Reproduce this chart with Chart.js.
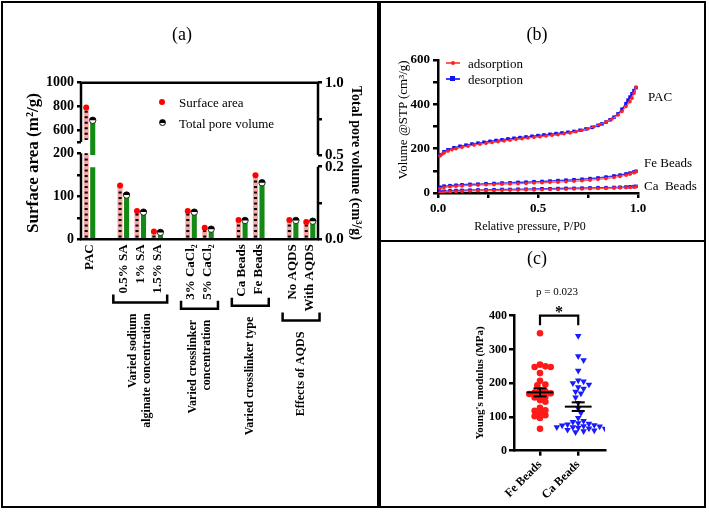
<!DOCTYPE html>
<html>
<head>
<meta charset="utf-8">
<title>Surface area, isotherms and Young's modulus</title>
<script src="https://cdn.jsdelivr.net/npm/chart.js@4.4.1/dist/chart.umd.min.js"></script>
<style>
  body { margin: 0; background: #fff; }
  #fig { position: relative; width: 709px; height: 512px; overflow: hidden; font-family: "Liberation Serif", "Times New Roman", serif; color: #000; }
  #fig canvas { position: absolute; }
  .box { position: absolute; border: 2px solid #000; box-sizing: border-box; }
  .t { position: absolute; white-space: pre; transform: translate(-50%, -50%); line-height: 1; }
  .l { position: absolute; white-space: pre; transform: translateY(-50%); line-height: 1; }
  .mk { position: absolute; box-sizing: border-box; }
</style>
</head>
<body>
<div id="fig">
  <canvas id="aTop" width="374" height="110" style="left:2px;top:60px"></canvas>
  <canvas id="aBottom" width="374" height="368" style="left:2px;top:140px"></canvas>
  <canvas id="bChart" width="322" height="235" style="left:382px;top:4px"></canvas>
  <canvas id="cChart" width="322" height="262" style="left:382px;top:244px"></canvas>

  <div class="box" style="left:1px;top:1px;width:378px;height:507px"></div>
  <div class="box" style="left:379px;top:1px;width:327px;height:241px"></div>
  <div class="box" style="left:379px;top:240px;width:327px;height:268px"></div>

  <!-- (a) -->
  <div class="t" style="left:182px;top:34px;font-size:18px">(a)</div>
  <div class="t" style="left:32px;top:163px;font-size:17px;font-weight:bold;transform:translate(-50%,-50%) rotate(-90deg)">Surface area (m²/g)</div>
  <div class="t" style="left:356px;top:163px;font-size:14px;font-weight:bold;transform:translate(-50%,-50%) rotate(90deg)">Total pore volume (cm³/g)</div>
  <div class="mk" style="left:159px;top:99px;width:6px;height:6px;border-radius:50%;background:#ff0000"></div>
  <div class="l" style="left:179px;top:102px;font-size:13px">Surface area</div>
  <div class="mk" style="left:159px;top:119px;width:7px;height:7px;border-radius:50%;border:1px solid #000;background:linear-gradient(#000 50%, #fff 50%)"></div>
  <div class="l" style="left:179px;top:123px;font-size:13px">Total pore volume</div>

  <!-- (b) -->
  <div class="t" style="left:537px;top:34px;font-size:18px">(b)</div>
  <div class="t" style="left:402px;top:120px;font-size:13px;transform:translate(-50%,-50%) rotate(-90deg)">Volume @STP (cm³/g)</div>
  <div class="t" style="left:530px;top:226px;font-size:12px">Relative pressure, P/P0</div>
  <div class="mk" style="left:446px;top:62px;width:14px;height:1.5px;background:#ff5a5a"></div>
  <div class="mk" style="left:451px;top:61px;width:4px;height:4px;border-radius:50%;background:#ff2020"></div>
  <div class="l" style="left:468px;top:63px;font-size:13px">adsorption</div>
  <div class="mk" style="left:446px;top:78px;width:14px;height:1.5px;background:#3c3cff"></div>
  <div class="mk" style="left:450px;top:76px;width:5px;height:5px;background:#1010ff"></div>
  <div class="l" style="left:468px;top:79px;font-size:13px">desorption</div>
  <div class="l" style="left:648px;top:96px;font-size:13px">PAC</div>
  <div class="l" style="left:644px;top:162px;font-size:13px">Fe Beads</div>
  <div class="l" style="left:644px;top:185px;font-size:13px">Ca  Beads</div>

  <!-- (c) -->
  <div class="t" style="left:537px;top:258px;font-size:18px">(c)</div>
  <div class="t" style="left:479px;top:383px;font-size:11px;font-weight:bold;transform:translate(-50%,-50%) rotate(-90deg)">Young's modulus (MPa)</div>
  <div class="t" style="left:557px;top:291px;font-size:11px">p = 0.023</div>
  <div class="t" style="left:559px;top:312px;font-size:16px;font-weight:bold">*</div>
</div>

<script>
Chart.defaults.font.family = '"Liberation Serif", "Times New Roman", serif';
Chart.defaults.color = '#000';
Chart.defaults.animation = false;

// (a) one slot per sample, '' is the gap between groups
const samples = ['PAC', '', '0.5% SA', '1% SA', '1.5% SA', '', '3% CaCl₂', '5% CaCl₂', '', 'Ca Beads', 'Fe Beads', '', 'No AQDS', 'With AQDS'];
const surfaceArea = [790, null, 125, 66, 18, null, 66, 27, null, 45, 149, null, 45, 40];
const poreVolume = [0.74, null, 0.122, 0.075, 0.019, null, 0.075, 0.028, null, 0.052, 0.156, null, 0.052, 0.05];
const groups = [
  { from: 2, to: 4, lines: ['Varied sodium', 'alginate concentration'] },
  { from: 6, to: 7, lines: ['Varied crosslinker', 'concentration'] },
  { from: 9, to: 10, lines: ['Varied crosslinker type'] },
  { from: 12, to: 13, lines: ['Effects of AQDS'] }
];

// (b) N2 isotherms
const pacAdsP = [0.01, 0.02, 0.03, 0.05, 0.07, 0.09, 0.12, 0.15, 0.18, 0.21, 0.24, 0.27, 0.30, 0.33, 0.36, 0.39, 0.42, 0.45, 0.48, 0.51, 0.54, 0.57, 0.60, 0.63, 0.66, 0.69, 0.72, 0.75, 0.78, 0.81, 0.84, 0.87, 0.90, 0.92, 0.94, 0.96, 0.97, 0.98, 0.99];
const pacAds = [167, 175, 181, 189, 195, 200, 206, 211, 216, 220, 224, 228, 231, 235, 238, 242, 245, 248, 251, 254, 257, 260, 263, 267, 271, 276, 283, 290, 299, 309, 320, 334, 352, 368, 390, 412, 428, 450, 478];
const pacDesP = [0.01, 0.03, 0.05, 0.08, 0.11, 0.14, 0.17, 0.20, 0.23, 0.26, 0.29, 0.32, 0.35, 0.38, 0.41, 0.44, 0.47, 0.50, 0.53, 0.56, 0.59, 0.62, 0.65, 0.68, 0.71, 0.74, 0.77, 0.80, 0.82, 0.84, 0.86, 0.88, 0.90, 0.92, 0.94, 0.95, 0.96, 0.97, 0.98, 0.99];
const pacDes = [172, 186, 195, 204, 211, 216, 221, 225, 229, 233, 237, 240, 244, 247, 250, 253, 256, 259, 262, 265, 268, 271, 274, 278, 283, 289, 296, 305, 312, 320, 330, 342, 357, 378, 403, 419, 433, 448, 462, 475];
const beadsP = [0.01, 0.03, 0.06, 0.09, 0.12, 0.16, 0.20, 0.24, 0.28, 0.32, 0.36, 0.40, 0.44, 0.48, 0.52, 0.56, 0.60, 0.64, 0.68, 0.72, 0.76, 0.80, 0.84, 0.88, 0.91, 0.94, 0.96, 0.98, 0.99];
const feAds = [20, 25, 28, 30, 32, 34, 35, 37, 38, 40, 41, 42, 43, 45, 46, 48, 49, 51, 53, 55, 58, 61, 65, 70, 75, 80, 85, 91, 96];
const feDes = [26, 31, 33, 35, 37, 39, 40, 42, 43, 45, 46, 48, 49, 51, 52, 54, 56, 58, 60, 62, 65, 68, 72, 77, 81, 86, 90, 95, 98];
const caAds = [1, 4, 6, 7, 8, 9, 10, 11, 11, 12, 13, 13, 14, 14, 15, 16, 16, 17, 18, 18, 19, 20, 21, 22, 23, 24, 25, 26, 28];
const caDes = [5, 8, 10, 11, 12, 13, 14, 14, 15, 16, 16, 17, 17, 18, 19, 19, 20, 21, 21, 22, 23, 24, 24, 25, 26, 27, 28, 29, 30];

// (c) Young's modulus (MPa)
const beadNames = ['Fe Beads', 'Ca Beads'];
const feModulus = [348, 255, 250, 248, 248, 230, 207, 196, 194, 180, 176, 172, 170, 165, 168, 160, 158, 150, 145, 127, 120, 118, 112, 105, 102, 97, 65];
const caModulus = [340, 280, 268, 237, 208, 205, 200, 196, 188, 184, 175, 170, 158, 142, 125, 112, 97, 88, 85, 82, 80, 78, 76, 75, 73, 72, 70, 70, 68, 66, 65, 62, 60, 58, 55];

const pink = '#f7a9a9';
const green = '#138a13';
const bold = size => ({ size: size, weight: 'bold' });
const fixedTicks = vals => scale => { scale.ticks = vals.map(v => ({ value: v })); };
const tickGrid = len => ({ display: true, drawOnChartArea: false, drawTicks: true, tickLength: len, lineWidth: 2.5, color: '#000' });

// axis lines that only run over part of a broken axis
function axisLines(segments, top) {
  return {
    id: 'axisLines',
    afterDraw(chart) {
      const ctx = chart.ctx, a = chart.chartArea;
      ctx.save();
      ctx.strokeStyle = '#000';
      ctx.lineWidth = 2.5;
      segments.forEach(s => {
        const sc = chart.scales[s.axis];
        const x = sc.position === 'left' ? a.left : a.right;
        ctx.beginPath();
        ctx.moveTo(x, sc.getPixelForValue(s.from));
        ctx.lineTo(x, sc.getPixelForValue(s.to));
        ctx.stroke();
      });
      if (top) {
        ctx.beginPath();
        ctx.moveTo(a.left, a.top);
        ctx.lineTo(a.right, a.top);
        ctx.stroke();
      }
      ctx.restore();
    }
  };
}

// black dashes inside the pink bars, and the markers on the bar tops
const barDecor = {
  id: 'barDecor',
  afterDatasetsDraw(chart) {
    const ctx = chart.ctx, a = chart.chartArea;
    chart.data.datasets.forEach((ds, di) => {
      const meta = chart.getDatasetMeta(di);
      const scale = chart.scales[ds.yAxisID];
      const c = ds.clip;
      meta.data.forEach((bar, i) => {
        const v = ds.data[i];
        if (v == null) return;
        const p = bar.getProps(['x', 'y', 'base', 'width'], true);
        if (ds.dashes) {
          ctx.save();
          ctx.beginPath();
          ctx.rect(a.left, a.top - c.top, a.right - a.left, (a.bottom + c.bottom) - (a.top - c.top));
          ctx.clip();
          ctx.fillStyle = '#000';
          for (let y = p.base - 2.5; y > p.y + 1; y -= 5.5) {
            ctx.fillRect(p.x - p.width / 2 + 1, y, p.width - 2, 2);
          }
          ctx.restore();
        }
        if (v < scale.min || v > scale.max) return;
        ctx.save();
        if (ds.marker === 'dot') {
          ctx.fillStyle = '#ff0000';
          ctx.beginPath();
          ctx.arc(p.x, p.y, 3, 0, Math.PI * 2);
          ctx.fill();
        } else {
          ctx.fillStyle = '#fff';
          ctx.strokeStyle = '#000';
          ctx.lineWidth = 0.8;
          ctx.beginPath();
          ctx.arc(p.x, p.y, 3.2, 0, Math.PI * 2);
          ctx.fill();
          ctx.stroke();
          ctx.fillStyle = '#000';
          ctx.beginPath();
          ctx.arc(p.x, p.y, 3.2, Math.PI, 0);
          ctx.fill();
        }
        ctx.restore();
      });
    });
  }
};

// brackets and rotated group names under the sample labels
const groupBrackets = {
  id: 'groupBrackets',
  afterDraw(chart) {
    const ctx = chart.ctx, xs = chart.scales.x, base = chart.chartArea.bottom;
    ctx.save();
    ctx.strokeStyle = '#000';
    ctx.fillStyle = '#000';
    ctx.lineWidth = 2.5;
    groups.forEach(g => {
      ctx.font = 'bold 13px "Liberation Serif"';
      let w = 0;
      for (let i = g.from; i <= g.to; i++) w = Math.max(w, ctx.measureText(samples[i]).width);
      const y = base + 5 + w + 9;
      const c0 = xs.getPixelForValue(g.from), c1 = xs.getPixelForValue(g.to);
      const x0 = c0 - 10, x1 = c1 + 10;
      ctx.beginPath();
      ctx.moveTo(x0, y - 8);
      ctx.lineTo(x0, y);
      ctx.lineTo(x1, y);
      ctx.lineTo(x1, y - 8);
      ctx.stroke();
      ctx.font = 'bold 12px "Liberation Serif"';
      const mid = (c0 + c1) / 2;
      g.lines.forEach((line, k) => {
        const lx = mid + (k - (g.lines.length - 1) / 2) * 14;
        ctx.save();
        ctx.translate(lx, y + 11);
        ctx.rotate(-Math.PI / 2);
        ctx.textAlign = 'right';
        ctx.textBaseline = 'middle';
        ctx.fillText(line, 0, 0);
        ctx.restore();
      });
    });
    ctx.restore();
  }
};

const aDatasets = (pinkClip, greenClip) => [
  { data: surfaceArea, yAxisID: 'yL', backgroundColor: pink, categoryPercentage: 0.77, barPercentage: 0.78, dashes: true, marker: 'dot', clip: pinkClip },
  { data: poreVolume, yAxisID: 'yR', backgroundColor: green, categoryPercentage: 0.77, barPercentage: 0.78, marker: 'half', clip: greenClip }
];

// (a) upper part of the broken axes
new Chart(document.getElementById('aTop'), {
  type: 'bar',
  data: { labels: samples, datasets: aDatasets({ left: 0, right: 0, top: 0, bottom: -15 }, { left: 0, right: 0, top: 0, bottom: 0 }) },
  options: {
    responsive: false,
    devicePixelRatio: 1,
    layout: { padding: { left: 39, right: 18, top: 22.7, bottom: 15 } },
    plugins: { legend: { display: false }, tooltip: { enabled: false } },
    scales: {
      x: { display: false },
      yL: {
        position: 'left', min: 390, max: 1000,
        afterBuildTicks: fixedTicks([500, 600, 800, 1000]),
        afterFit: s => { s.width = 40; },
        ticks: { font: bold(14), padding: 3, callback: v => v === 500 ? '' : v },
        grid: tickGrid(4), border: { display: false }
      },
      yR: {
        position: 'right', min: 0.5, max: 1,
        afterBuildTicks: fixedTicks([0.5, 0.75, 1]),
        afterFit: s => { s.width = 40; },
        ticks: { font: bold(15), padding: 3, callback: v => v === 0.75 ? '' : v.toFixed(1) },
        grid: tickGrid(4), border: { display: false }
      }
    }
  },
  plugins: [axisLines([{ axis: 'yL', from: 500, to: 1000 }, { axis: 'yR', from: 0.5, to: 1 }], true), barDecor]
});

// (a) lower part with the sample labels
new Chart(document.getElementById('aBottom'), {
  type: 'bar',
  data: { labels: samples, datasets: aDatasets({ left: 0, right: 0, top: 0, bottom: 0 }, { left: 0, right: 0, top: -14, bottom: 0 }) },
  options: {
    responsive: false,
    devicePixelRatio: 1,
    layout: { padding: { left: 39, right: 18, top: 13.3, bottom: 0 } },
    plugins: { legend: { display: false }, tooltip: { enabled: false } },
    scales: {
      x: {
        grid: { display: false, drawTicks: false },
        border: { display: true, color: '#000', width: 2.5 },
        afterFit: s => { s.height = 268.7; },
        ticks: { font: bold(13), minRotation: 90, maxRotation: 90, padding: 5, autoSkip: false }
      },
      yL: {
        position: 'left', min: 0, max: 200,
        afterBuildTicks: fixedTicks([0, 50, 100, 150, 200]),
        afterFit: s => { s.width = 40; },
        ticks: { font: bold(14), padding: 3, callback: v => v % 100 ? '' : v },
        grid: tickGrid(4), border: { display: false }
      },
      yR: {
        position: 'right', min: 0, max: 0.237,
        afterBuildTicks: fixedTicks([0, 0.1, 0.2]),
        afterFit: s => { s.width = 40; },
        ticks: { font: bold(15), padding: 3, callback: v => v === 0.1 ? '' : v.toFixed(1) },
        grid: tickGrid(4), border: { display: false }
      }
    }
  },
  plugins: [axisLines([{ axis: 'yL', from: 0, to: 200 }, { axis: 'yR', from: 0, to: 0.2 }], false), barDecor, groupBrackets]
});

// (b) isotherms
const ads = (ps, vs) => ({
  data: ps.map((p, i) => ({ x: p, y: vs[i] })), showLine: true,
  borderColor: '#ff5a5a', borderWidth: 1.2, pointRadius: 1.8,
  pointBackgroundColor: '#ff2020', pointBorderWidth: 0
});
const des = (ps, vs) => ({
  data: ps.map((p, i) => ({ x: p, y: vs[i] })), showLine: true,
  borderColor: '#3c3cff', borderWidth: 1.5, pointStyle: 'rect', pointRadius: 2.5,
  pointBackgroundColor: '#1010ff', pointBorderWidth: 0
});

new Chart(document.getElementById('bChart'), {
  type: 'scatter',
  data: {
    datasets: [
      ads(pacAdsP, pacAds), ads(beadsP, feAds), ads(beadsP, caAds),
      des(pacDesP, pacDes), des(beadsP, feDes), des(beadsP, caDes)
    ]
  },
  options: {
    responsive: false,
    devicePixelRatio: 1,
    layout: { padding: { left: 26, right: 66, top: 56, bottom: 0 } },
    plugins: { legend: { display: false }, tooltip: { enabled: false } },
    scales: {
      x: {
        type: 'linear', min: 0, max: 1,
        afterBuildTicks: fixedTicks([0, 0.25, 0.5, 0.75, 1]),
        afterFit: s => { s.height = 46; },
        ticks: { font: bold(13), padding: 3, callback: v => (v === 0.25 || v === 0.75) ? '' : v.toFixed(1) },
        grid: tickGrid(5), border: { color: '#000', width: 2.5 }
      },
      y: {
        min: 0, max: 600,
        afterBuildTicks: fixedTicks([0, 100, 200, 300, 400, 500, 600]),
        afterFit: s => { s.width = 30; },
        ticks: { font: bold(13), padding: 3, callback: v => v % 200 ? '' : v },
        grid: tickGrid(5), border: { color: '#000', width: 2.5 }
      }
    }
  }
});

// (c) scatter dot plot, points spread sideways so they do not pile up
function swarm(values, center) {
  const dx = 0.14, dy = 14, placed = [];
  return values.map(v => {
    for (let k = 0; k < 60; k++) {
      const off = (k % 2 ? 1 : -1) * Math.ceil(k / 2) * dx / 2;
      const free = placed.every(p => ((p.x - center - off) / dx) ** 2 + ((p.y - v) / dy) ** 2 >= 1);
      if (free) {
        const pt = { x: center + off, y: v };
        placed.push(pt);
        return pt;
      }
    }
    return { x: center, y: v };
  });
}

const meanSem = {
  id: 'meanSem',
  afterDatasetsDraw(chart) {
    const ctx = chart.ctx, xs = chart.scales.x, ys = chart.scales.y;
    ctx.save();
    ctx.strokeStyle = '#000';
    ctx.lineWidth = 2;
    const seg = (x0, y0, x1, y1) => {
      ctx.beginPath();
      ctx.moveTo(xs.getPixelForValue(x0), ys.getPixelForValue(y0));
      ctx.lineTo(xs.getPixelForValue(x1), ys.getPixelForValue(y1));
      ctx.stroke();
    };
    [feModulus, caModulus].forEach((vals, k) => {
      const n = vals.length;
      const m = vals.reduce((s, v) => s + v, 0) / n;
      const sem = Math.sqrt(vals.reduce((s, v) => s + (v - m) ** 2, 0) / (n - 1) / n);
      seg(k - 0.35, m, k + 0.35, m);
      seg(k - 0.17, m + sem, k + 0.17, m + sem);
      seg(k - 0.17, m - sem, k + 0.17, m - sem);
      seg(k, m - sem, k, m + sem);
    });
    ctx.lineWidth = 2.2;
    ctx.beginPath();
    ctx.moveTo(xs.getPixelForValue(0), ys.getPixelForValue(372));
    ctx.lineTo(xs.getPixelForValue(0), ys.getPixelForValue(400));
    ctx.lineTo(xs.getPixelForValue(1), ys.getPixelForValue(400));
    ctx.lineTo(xs.getPixelForValue(1), ys.getPixelForValue(372));
    ctx.stroke();
    ctx.restore();
  }
};

new Chart(document.getElementById('cChart'), {
  type: 'scatter',
  data: {
    datasets: [
      { data: swarm(feModulus, 0), pointRadius: 3.3, pointBackgroundColor: '#ff1a1a', pointBorderWidth: 0 },
      { data: swarm(caModulus, 1), pointStyle: 'triangle', pointRotation: 180, pointRadius: 3.8, pointBackgroundColor: '#1a1aff', pointBorderWidth: 0 }
    ]
  },
  options: {
    responsive: false,
    devicePixelRatio: 1,
    layout: { padding: { left: 102, right: 99, top: 71.7, bottom: 0 } },
    plugins: { legend: { display: false }, tooltip: { enabled: false } },
    scales: {
      x: {
        type: 'linear', min: -0.68, max: 1.7,
        afterBuildTicks: fixedTicks([0, 1]),
        afterFit: s => { s.height = 55.3; },
        ticks: { font: bold(12), padding: 2, minRotation: 45, maxRotation: 45, callback: v => beadNames[v] },
        grid: tickGrid(5), border: { color: '#000', width: 2.5 }
      },
      y: {
        min: 0, max: 400,
        afterBuildTicks: fixedTicks([0, 100, 200, 300, 400]),
        afterFit: s => { s.width = 30; },
        ticks: { font: bold(12), padding: 2 },
        grid: tickGrid(5), border: { color: '#000', width: 2.5 }
      }
    }
  },
  plugins: [meanSem]
});
</script>
</body>
</html>
